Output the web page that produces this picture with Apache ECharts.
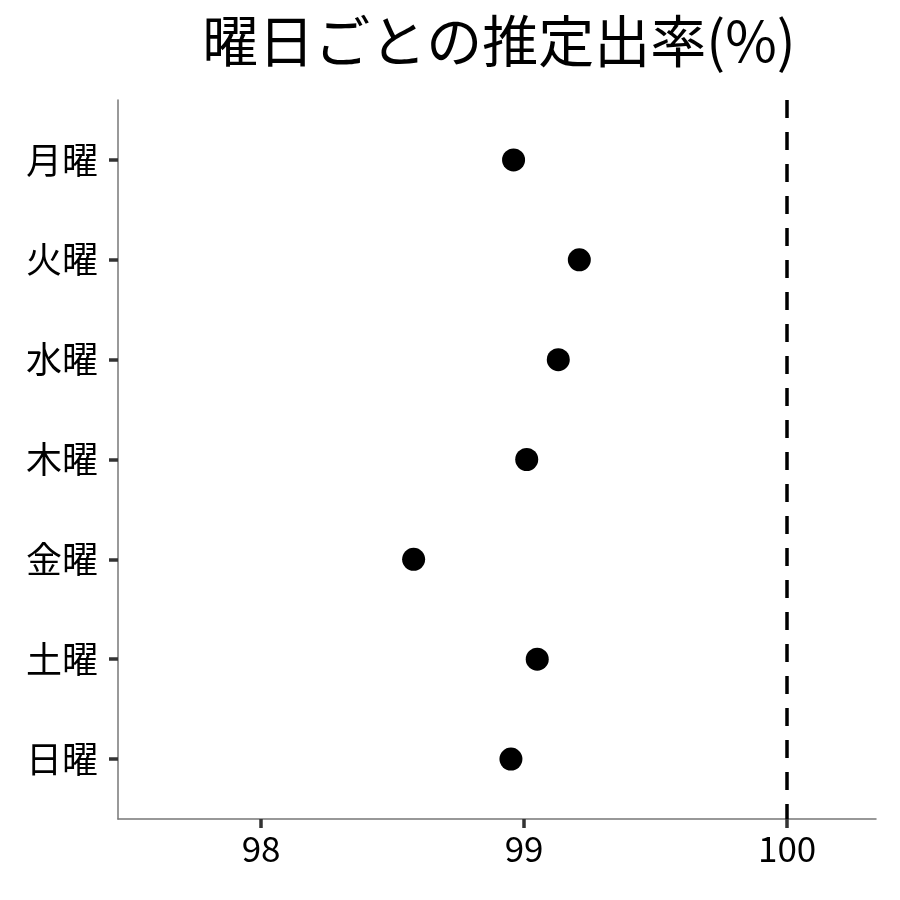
<!DOCTYPE html>
<html><head><meta charset="utf-8">
<script src="https://cdn.jsdelivr.net/npm/echarts@6/dist/echarts.min.js"></script>
<style>html,body{margin:0;padding:0;background:#fff}#c{width:900px;height:900px}</style>
</head><body><div id="c"></div>
<script>
const titleText = '曜日ごとの推定出率(%)';
const days = ['月曜','火曜','水曜','木曜','金曜','土曜','日曜'];
const rates = [98.96, 99.21, 99.13, 99.01, 98.58, 99.05, 98.95];
const xTicks = [98, 99, 100];
const refLine = 100;

const FONT = '"Noto Sans CJK JP", "Noto Sans", sans-serif';
const pos = days.map((d, i) => i + 1);
const data = rates.map((v, i) => [v, pos[i]]);

const chart = echarts.init(document.getElementById('c'));
chart.setOption({
  backgroundColor: '#fff',
  title: {
    text: titleText, left: 494, top: 8, textAlign: 'center',
    textStyle: { fontFamily: FONT, fontSize: 56, fontWeight: 'normal', color: '#000' }
  },
  grid: { left: 118, right: 24, top: 100, bottom: 81, containLabel: false },
  xAxis: {
    type: 'value', min: 97.456, max: 100.338,
    axisLine: { show: true, onZero: false, lineStyle: { color: '#777', width: 1.5 } },
    axisTick: { show: true, customValues: xTicks, length: 9, lineStyle: { color: '#333', width: 3.5 } },
    axisLabel: { customValues: xTicks, fontFamily: FONT, fontSize: 35, color: '#000', margin: 12 },
    splitLine: { show: false }
  },
  yAxis: {
    type: 'value', inverse: true, min: 0.4, max: 7.6,
    axisLine: { show: true, onZero: false, lineStyle: { color: '#777', width: 1.5 } },
    axisTick: { show: true, customValues: pos, length: 9, lineStyle: { color: '#333', width: 3.5 } },
    axisLabel: { customValues: pos, fontFamily: FONT, fontSize: 36, color: '#000', margin: 20,
      formatter: v => days[Math.round(v) - 1] || '' },
    splitLine: { show: false }
  },
  series: [{
    type: 'scatter', data: data, symbolSize: 23,
    itemStyle: { color: '#000', opacity: 1 },
    silent: true,
    markLine: {
      silent: true, symbol: ['none', 'none'], label: { show: false },
      lineStyle: { color: '#000', type: [18, 14], width: 3.5 },
      data: [{ xAxis: refLine }]
    }
  }],
  animation: false
});
</script></body></html>
